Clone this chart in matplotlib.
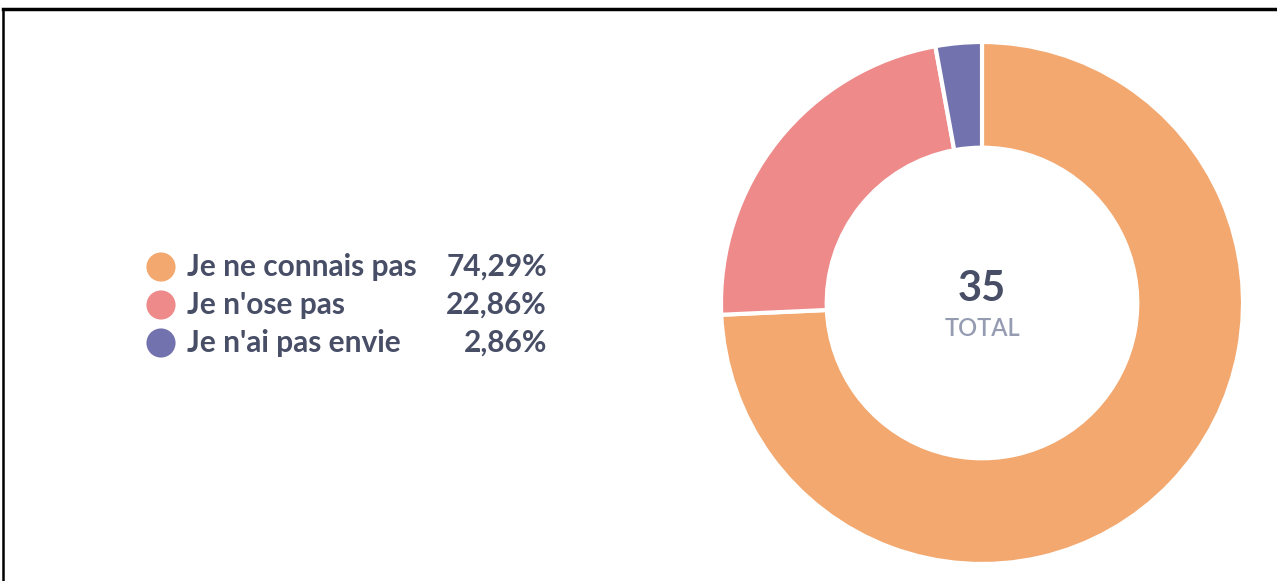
import matplotlib.pyplot as plt

labels = ["Je ne connais pas", "Je n'ose pas", "Je n'ai pas envie"]
values = [74.29, 22.86, 2.86]
pct_labels = ["74,29%", "22,86%", "2,86%"]
colors = ["#F2A86F", "#EE8A8A", "#7272AE"]
total = 35

W, H = 1277, 581
fig = plt.figure(figsize=(W / 100, H / 100), dpi=100)
ax = fig.add_axes([0, 0, 1, 1])

# donut
cx, cy, r = 982, H - 303, 261
ax.pie(values, colors=colors, startangle=90, counterclock=False,
       center=(cx, cy), radius=r, frame=True,
       wedgeprops=dict(width=r * 0.405, edgecolor='white', linewidth=3))
ax.set_xlim(0, W)
ax.set_ylim(0, H)
ax.set_aspect('equal')
ax.axis('off')

txt = "#474E66"
ax.text(cx, H - 289, str(total), ha='center', va='center', fontsize=30,
        color=txt, family='Lato', fontweight='bold')
ax.text(cx, H - 328, "TOTAL", ha='center', va='center', fontsize=17,
        color="#959CB2", family='Lato', fontweight='semibold')

# legend
ys = [267, 305, 343]
for lab, pct, col, y in zip(labels, pct_labels, colors, ys):
    ax.scatter(161, H - y, s=440, color=col, edgecolors='none')
    ax.text(187, H - y, lab, ha='left', va='center', fontsize=21.5,
            color=txt, family='Lato', fontweight='bold')
    ax.text(547, H - y, pct, ha='right', va='center', fontsize=21.5,
            color=txt, family='Lato', fontweight='bold')

# frame lines (top and left)
fig.add_artist(plt.Line2D([3 / W, 1], [1 - 9 / H, 1 - 9 / H],
                          transform=fig.transFigure, color='black', linewidth=2.5))
fig.add_artist(plt.Line2D([3 / W, 3 / W], [0, 1 - 9 / H],
                          transform=fig.transFigure, color='black', linewidth=1.8))

fig.savefig("out.png", dpi=100)
